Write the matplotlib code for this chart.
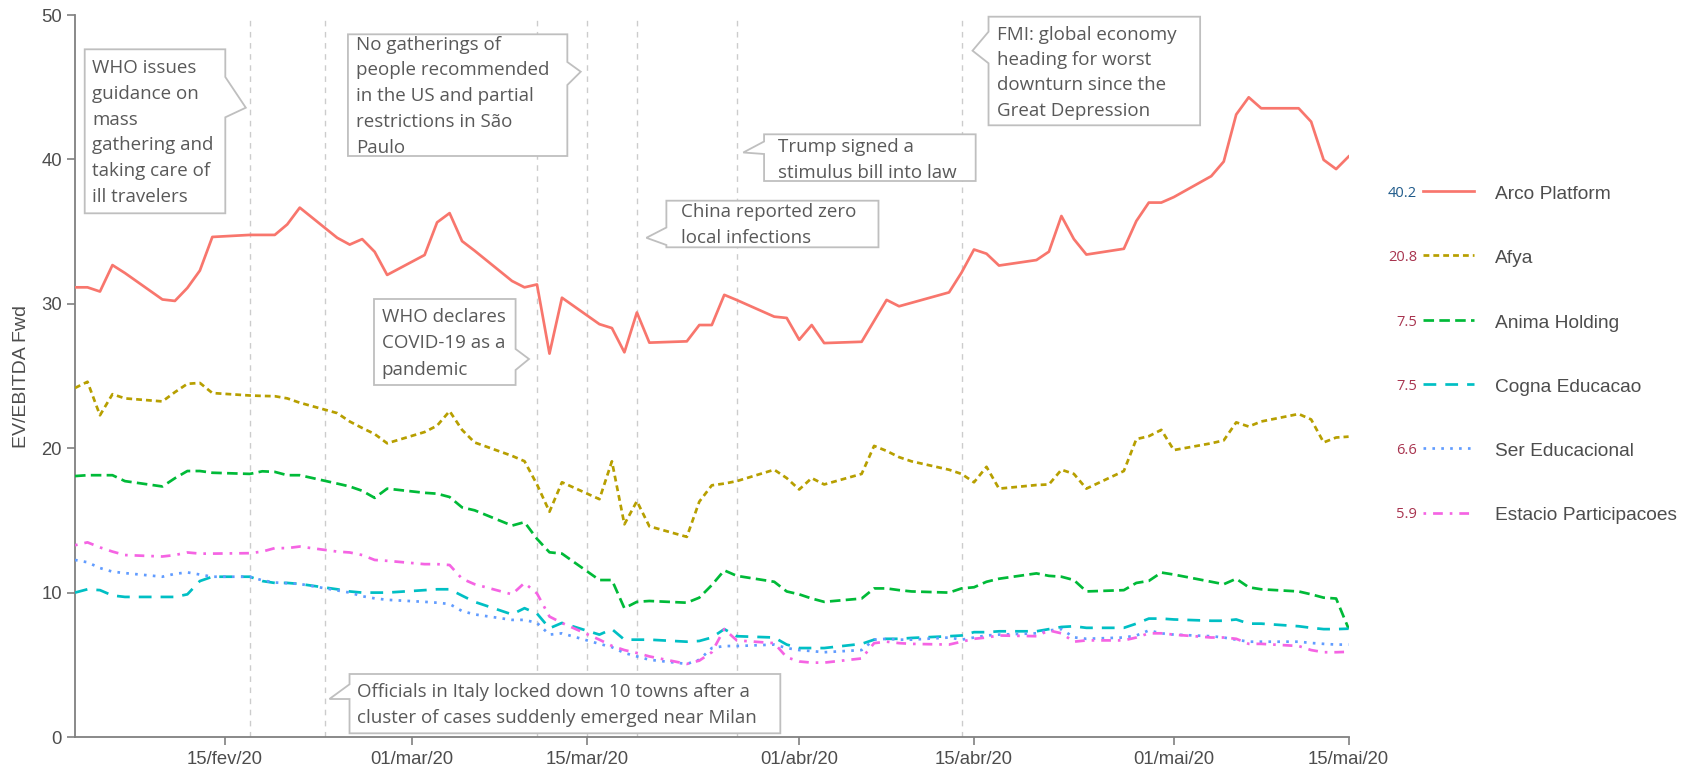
import numpy as np
import pandas as pd
import matplotlib
matplotlib.use('Agg')
import matplotlib.pyplot as plt
import matplotlib.dates as mdates
from matplotlib.path import Path
from matplotlib.patches import PathPatch

plt.rcParams['font.family'] = ['Liberation Sans', 'DejaVu Sans']
plt.rcParams['lines.scale_dashes'] = False

# ---------------- data ----------------
dates = pd.bdate_range('2020-02-03', '2020-05-15')

arco = [31.14, 31.14, 30.85, 32.68, 32.13,
        30.3, 30.2, 31.1, 32.3, 34.63,
        34.77, 34.77, 34.77, 35.5, 36.66,
        34.57, 34.1, 34.48, 33.6, 32.0,
        33.38, 35.64, 36.28, 34.34, 33.68,
        31.58, 31.14, 31.34, 26.55, 30.42,
        28.59, 28.32, 26.64, 29.4, 27.31,
        27.4, 28.53, 28.53, 30.62, 30.26,
        29.11, 29.02, 27.51, 28.53, 27.28,
        27.37, 28.82, 30.27, 29.83, 30.07,
        30.79, 32.16, 33.76, 33.47, 32.65,
        33.03, 33.61, 36.08, 34.48, 33.41,
        33.81, 35.73, 37.01, 37.01, 37.39,
        38.84, 39.85, 43.11, 44.3, 43.54,
        43.54, 42.61, 39.97, 39.33, 40.2]

afya = [24.17, 24.6, 22.28, 23.74, 23.45,
        23.24, 23.88, 24.46, 24.52, 23.82,
        23.65, 23.62, 23.6, 23.45, 23.15,
        22.43, 21.85, 21.4, 20.98, 20.34,
        21.12, 21.56, 22.57, 21.27, 20.4,
        19.47, 19.1, 17.49, 15.6, 17.64,
        16.47, 19.09, 14.73, 16.33, 14.59,
        13.86, 16.3, 17.43, 17.55, 17.72,
        18.51, 17.93, 17.14, 17.93, 17.49,
        18.22, 20.16, 19.81, 19.38, 19.09,
        18.51, 18.22, 17.64, 18.71, 17.2,
        17.45, 17.49, 18.51, 18.22, 17.2,
        18.42, 20.63, 20.83, 21.27, 19.87,
        20.34, 20.54, 21.79, 21.5, 21.85,
        22.37, 21.99, 20.4, 20.74, 20.8]

anima = [18.07, 18.13, 18.13, 18.13, 17.72,
         17.35, 17.92, 18.42, 18.42, 18.3,
         18.22, 18.4, 18.36, 18.13, 18.13,
         17.55, 17.35, 17.05, 16.56, 17.2,
         16.91, 16.85, 16.62, 15.9, 15.7,
         14.64, 14.88, 13.72, 12.79, 12.7,
         10.87, 10.87, 8.92, 9.36, 9.42,
         9.3, 9.65, 10.52, 11.54, 11.16,
         10.75, 10.08, 9.88, 9.59, 9.36,
         9.59, 10.29, 10.29, 10.17, 10.08,
         10.0, 10.29, 10.37, 10.75, 10.96,
         11.33, 11.16, 11.1, 10.87, 10.08,
         10.17, 10.67, 10.81, 11.39, 11.25,
         10.75, 10.58, 10.96, 10.37, 10.23,
         10.08, 9.88, 9.65, 9.59, 7.5]

cogna = [10.0, 10.23, 10.17, 9.8, 9.7,
         9.7, 9.7, 9.88, 10.8, 11.1,
         11.1, 10.8, 10.67, 10.67, 10.6,
         10.23, 10.08, 10.0, 10.0, 10.0,
         10.17, 10.23, 10.23, 9.79, 9.36,
         8.49, 8.92, 8.55, 7.53, 7.9,
         7.09, 7.47, 6.74, 6.74, 6.74,
         6.6, 6.65, 6.89, 7.47, 6.98,
         6.89, 6.4, 6.16, 6.16, 6.16,
         6.45, 6.74, 6.8, 6.8, 6.86,
         6.98, 7.03, 7.26, 7.26, 7.32,
         7.32, 7.47, 7.62, 7.67, 7.56,
         7.56, 7.85, 8.2, 8.2, 8.14,
         8.05, 8.05, 8.14, 7.85, 7.85,
         7.67, 7.56, 7.47, 7.47, 7.5]

ser = [12.26, 12.1, 11.7, 11.45, 11.35,
       11.1, 11.3, 11.4, 11.25, 11.1,
       11.1, 10.85, 10.7, 10.65, 10.6,
       10.15, 10.0, 9.75, 9.6, 9.5,
       9.36, 9.3, 9.21, 8.72, 8.49,
       8.11, 8.11, 7.9, 7.09, 7.18,
       6.45, 6.22, 5.82, 5.58, 5.35,
       5.06, 5.35, 6.16, 6.3, 6.3,
       6.4, 6.16, 6.02, 5.95, 5.87,
       6.02, 6.74, 6.8, 6.74, 6.74,
       6.89, 6.74, 6.89, 7.03, 7.09,
       7.18, 7.38, 7.47, 6.9, 6.8,
       6.89, 7.03, 7.38, 7.18, 7.09,
       6.98, 6.89, 6.74, 6.6, 6.6,
       6.6, 6.51, 6.45, 6.4, 6.4]

estacio = [13.28, 13.48, 13.13, 12.84, 12.6,
           12.5, 12.6, 12.78, 12.7, 12.7,
           12.73, 12.84, 13.08, 13.08, 13.19,
           12.84, 12.78, 12.6, 12.26, 12.2,
           11.97, 11.97, 11.91, 10.96, 10.58,
           9.88, 10.67, 9.94, 8.34, 7.9,
           6.74, 6.31, 6.02, 5.82, 5.58,
           5.06, 5.29, 5.87, 7.47, 6.69,
           6.5, 5.52, 5.23, 5.15, 5.15,
           5.44, 6.5, 6.6, 6.5, 6.45,
           6.4, 6.6, 6.8, 6.89, 7.03,
           6.98, 7.38, 7.18, 6.6, 6.69,
           6.69, 6.89, 7.18, 7.18, 7.09,
           6.89, 6.89, 6.8, 6.45, 6.45,
           6.3, 6.02, 5.87, 5.87, 5.9]

series_names = ['Arco Platform', 'Afya', 'Anima Holding', 'Cogna Educacao',
                'Ser Educacional', 'Estacio Participacoes']
series_values = [arco, afya, anima, cogna, ser, estacio]
legend_values = ['40.2', '20.8', '7.5', '7.5', '6.6', '5.9']

tick_dates = ['2020-02-15', '2020-03-01', '2020-03-15', '2020-04-01',
              '2020-04-15', '2020-05-01', '2020-05-15']
tick_labels = ['15/fev/20', '01/mar/20', '15/mar/20', '01/abr/20',
               '15/abr/20', '01/mai/20', '15/mai/20']

event_dates = ['2020-02-17', '2020-02-23', '2020-03-11', '2020-03-15',
               '2020-03-19', '2020-03-27', '2020-04-14']
event_texts = [
    ['WHO issues', 'guidance on', 'mass', 'gathering and', 'taking care of', 'ill travelers'],
    ['Officials in Italy locked down 10 towns after a', 'cluster of cases suddenly emerged near Milan'],
    ['WHO declares', 'COVID-19 as a', 'pandemic'],
    ['No gatherings of', 'people recommended', 'in the US and partial', 'restrictions in São', 'Paulo'],
    ['China reported zero', 'local infections'],
    ['Trump signed a', 'stimulus bill into law'],
    ['FMI: global economy', 'heading for worst', 'downturn since the', 'Great Depression'],
]

# ---------------- styles ----------------
colors = ['#F8766D', '#B79F00', '#00BA38', '#00BFC4', '#619CFF', '#F564E3']
dash_styles = [None, (4.2, 2.9), (7.6, 3.8), (9.2, 6.5), (1.9, 4.5), (1.9, 5.0, 7.0, 5.0)]
value_colors = ['#1F5A8A', '#A8344F', '#A8344F', '#A8344F', '#A8344F', '#A8344F']
LW = 1.95
GRAY = '#808080'
TXT = '#4D4D4D'

# callout layout (pixels, relative to the event line x; y in figure pixels from top)
# box: (left_off, right_off, top, bottom); tail: (attach1_y, tip_y, attach2_y); tip_dx; text_dx; first baseline
callout_layout = [
    dict(box=(-165.1, -24.5, 49.3, 213.3), tail=(77, 107.7, 117.3), tip_dx=-4, text_dx=7.6, base=73.2, step=25.7),
    dict(box=(24.8, 455.6, 674, 733.3), tail=(684.3, 699, 699), tip_dx=4.7, text_dx=7.4, base=697.2, step=26),
    dict(box=(-163, -21.4, 299, 385), tail=(349, 359, 370), tip_dx=-8, text_dx=7.7, base=322.2, step=26.3),
    dict(box=(-239, -19.6, 34.3, 156), tail=(62, 71.7, 85), tip_dx=-6.2, text_dx=7.8, base=49.5, step=25.9),
    dict(box=(29.5, 241.6, 200.7, 247.3), tail=(227.5, 237.8, 245), tip_dx=9.5, text_dx=14.8, base=217.2, step=26),
    dict(box=(27.3, 238.9, 134.3, 181), tail=(141.5, 152.5, 154), tip_dx=6.5, text_dx=14.3, base=151.5, step=26.7),
    dict(box=(27.0, 238.6, 16.7, 125.3), tail=(31.7, 50.7, 63.3), tip_dx=11, text_dx=8.1, base=39.8, step=25.3),
]

# ---------------- figure ----------------
W, H = 1685, 769
fig = plt.figure(figsize=(W / 100, H / 100), dpi=100)
ax = fig.add_axes([75 / W, 1 - 737 / H, (1348.6 - 75) / W, (737 - 15) / H])

for ev in event_dates:
    ax.axvline(pd.Timestamp(ev), color='#CCCCCC', lw=1.0, dashes=(4, 4), zorder=1)

for vals, col, ds in zip(series_values, colors, dash_styles):
    kw = dict(color=col, lw=LW, zorder=3)
    if ds is not None:
        kw['dashes'] = ds
    ax.plot(dates, vals, **kw)

ax.set_xlim(dates[0], dates[-1])
ax.set_ylim(0, 50)
ax.set_yticks([0, 10, 20, 30, 40, 50])
ax.set_xticks([pd.Timestamp(d) for d in tick_dates])
ax.set_xticklabels(tick_labels)
for s in ['top', 'right']:
    ax.spines[s].set_visible(False)
for s in ['left', 'bottom']:
    ax.spines[s].set_color(GRAY)
    ax.spines[s].set_linewidth(1.3)
ax.tick_params(axis='both', length=6, width=1.2, color=GRAY, labelcolor=TXT, labelsize=13.3)
ax.tick_params(axis='y', pad=3.5)
ax.tick_params(axis='x', pad=4)
ax.patch.set_alpha(0)

fig.text(21 / W, 1 - 376 / H, 'EV/EBITDA Fwd', rotation=90, ha='center', va='center',
         fontsize=14, color=TXT)

# overlay for callouts and legend (pixel coordinates, y from top)
ov = fig.add_axes([0, 0, 1, 1], zorder=5)
ov.set_xlim(0, W)
ov.set_ylim(H, 0)
ov.axis('off')
ov.patch.set_alpha(0)

for ev, lines, lay in zip(event_dates, event_texts, callout_layout):
    lx = ax.transData.transform((mdates.date2num(pd.Timestamp(ev)), 0))[0]
    L, R = lx + lay['box'][0], lx + lay['box'][1]
    T, B = lay['box'][2], lay['box'][3]
    a1, ty, a2 = lay['tail']
    tx = lx + lay['tip_dx']
    if tx > R:   # tail on right side
        verts = [(L, T), (R, T), (R, a1), (tx, ty), (R, a2), (R, B), (L, B), (L, T)]
    else:        # tail on left side
        verts = [(L, T), (R, T), (R, B), (L, B), (L, a2), (tx, ty), (L, a1), (L, T)]
    codes = [Path.MOVETO] + [Path.LINETO] * (len(verts) - 2) + [Path.CLOSEPOLY]
    ov.add_patch(PathPatch(Path(verts, codes), facecolor='white', edgecolor='#BFBFBF',
                           lw=1.3, joinstyle='miter'))
    for k, line in enumerate(lines):
        ov.text(L + lay['text_dx'], lay['base'] + k * lay['step'], line, ha='left',
                va='baseline', fontsize=13.5, color='#595959', family=['Open Sans', 'DejaVu Sans'])

# legend
for i, (name, col, ds, val, vcol) in enumerate(zip(series_names, colors, dash_styles,
                                                  legend_values, value_colors)):
    y = 191 + 64.3 * i
    kw = dict(color=col, lw=LW)
    if ds is not None:
        kw['dashes'] = ds
    ov.plot([1423, 1474], [y, y], **kw)
    ov.text(1417, y + 6, val, ha='right', va='baseline', fontsize=10.5, color=vcol,
            family=['Open Sans', 'DejaVu Sans'])
    ov.text(1495, y + 8, name, ha='left', va='baseline', fontsize=13.8, color=TXT)

fig.savefig('out.png', dpi=100)
